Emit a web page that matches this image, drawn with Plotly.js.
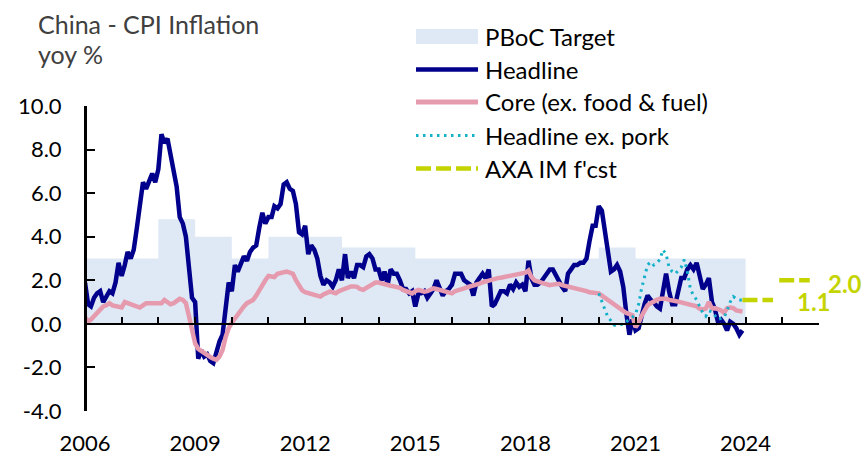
<!DOCTYPE html>
<html>
<head>
<meta charset="utf-8">
<script src="https://cdn.plot.ly/plotly-3.0.1.min.js"></script>
<style>html,body{margin:0;padding:0;background:#fff;}#chart{width:864px;height:456px;}</style>
</head>
<body>
<div id="chart"></div>
<script>
// ---------------- DATA ----------------
const startYear = 2006; // monthly series start Jan 2006
const headline = [
  1.9, 0.9, 0.8, 1.2, 1.4, 1.5, 1.0, 1.3, 1.5, 1.4, 1.9, 2.8,   // 2006
  2.2, 2.7, 3.3, 3.0, 3.4, 4.4, 5.6, 6.5, 6.2, 6.5, 6.9, 6.5,   // 2007
  7.1, 8.7, 8.3, 8.5, 7.7, 7.1, 6.3, 4.9, 4.6, 4.0, 2.4, 1.2,   // 2008
  1.0, -1.6, -1.2, -1.5, -1.4, -1.7, -1.8, -1.2, -0.8, -0.5, 0.6, 1.9, // 2009
  1.5, 2.7, 2.4, 2.8, 3.1, 2.9, 3.3, 3.5, 3.6, 4.4, 5.1, 4.6,   // 2010
  4.9, 4.9, 5.4, 5.3, 5.5, 6.4, 6.5, 6.2, 6.1, 5.5, 4.2, 4.1,   // 2011
  4.5, 3.2, 3.6, 3.4, 3.0, 2.2, 1.8, 2.0, 1.9, 1.7, 2.0, 2.5,   // 2012
  2.0, 3.2, 2.1, 2.4, 2.1, 2.7, 2.7, 2.6, 3.1, 3.2, 3.0, 2.5,   // 2013
  2.5, 2.0, 2.4, 1.8, 2.5, 2.3, 2.3, 2.0, 1.6, 1.6, 1.4, 1.5,   // 2014
  0.8, 1.4, 1.4, 1.5, 1.2, 1.4, 1.6, 2.0, 1.6, 1.3, 1.5, 1.6,   // 2015
  1.8, 2.3, 2.3, 2.3, 2.0, 1.9, 1.8, 1.3, 1.9, 2.1, 2.3, 2.1,   // 2016
  2.5, 0.8, 0.9, 1.2, 1.5, 1.5, 1.4, 1.8, 1.6, 1.9, 1.7, 1.8,   // 2017
  1.5, 2.9, 2.1, 1.8, 1.8, 1.9, 2.1, 2.3, 2.5, 2.5, 2.2, 1.9,   // 2018
  1.7, 1.5, 2.3, 2.5, 2.7, 2.7, 2.8, 2.8, 3.0, 3.8, 4.5, 4.5,   // 2019
  5.4, 5.2, 4.3, 3.3, 2.4, 2.5, 2.7, 2.4, 1.7, 0.5, -0.5, 0.2,  // 2020
  -0.3, -0.2, 0.4, 0.9, 1.3, 1.1, 1.0, 0.8, 0.7, 1.5, 2.3, 1.5, // 2021
  0.9, 0.9, 1.5, 2.1, 2.1, 2.5, 2.7, 2.5, 2.8, 2.1, 1.6, 1.8,   // 2022
  2.1, 1.0, 0.7, 0.1, 0.2, 0.0, -0.3, 0.1, 0.0, -0.2, -0.5, -0.3 // 2023
];
const core = [
  0.3, 0.1, 0.2, 0.35, 0.55, 0.65, 0.8, 0.85, 0.95, 0.85, 0.8, 0.75,        // 2006
  0.75, 1.0, 0.95, 0.9, 0.85, 0.8, 0.75, 0.85, 0.95, 0.95, 0.95, 0.95,      // 2007
  0.9, 0.95, 1.1, 1.0, 0.9, 0.95, 1.05, 1.15, 1.1, 0.95, 0.35, -0.4,        // 2008
  -0.9, -1.15, -1.25, -1.35, -1.45, -1.52, -1.6, -1.65, -1.5, -1.2, -0.6, -0.2, // 2009
  0.05, 0.25, 0.45, 0.6, 0.8, 0.95, 1.05, 1.1, 1.3, 1.55, 1.8, 2.0,         // 2010
  2.2, 2.2, 2.15, 2.3, 2.35, 2.4, 2.4, 2.35, 2.3, 2.0, 1.8, 1.55,           // 2011
  1.45, 1.4, 1.35, 1.33, 1.28, 1.25, 1.35, 1.4, 1.48, 1.45, 1.4, 1.5,       // 2012
  1.56, 1.65, 1.7, 1.72, 1.72, 1.7, 1.6, 1.56, 1.65, 1.72, 1.8, 1.9,        // 2013
  1.9, 1.85, 1.8, 1.78, 1.75, 1.72, 1.7, 1.65, 1.56, 1.5, 1.42, 1.4,        // 2014
  1.5, 1.56, 1.52, 1.48, 1.5, 1.56, 1.63, 1.6, 1.56, 1.52, 1.45, 1.4,       // 2015
  1.4, 1.5, 1.56, 1.6, 1.63, 1.68, 1.71, 1.75, 1.8, 1.85, 1.9, 1.95,        // 2016
  2.0, 2.05, 2.08, 2.1, 2.12, 2.15, 2.16, 2.2, 2.24, 2.26, 2.28, 2.3,       // 2017
  2.35, 2.45, 2.16, 2.0, 1.94, 1.9, 1.86, 1.82, 1.78, 1.8, 1.84, 1.84,      // 2018
  1.78, 1.75, 1.7, 1.65, 1.63, 1.6, 1.56, 1.56, 1.5, 1.45, 1.42, 1.4,       // 2019
  1.4, 1.3, 1.2, 1.1, 1.0, 0.87, 0.8, 0.68, 0.6, 0.5, 0.45, 0.4,            // 2020
  -0.15, 0.05, 0.35, 0.65, 0.85, 0.95, 1.05, 1.1, 1.15, 1.17, 1.15, 1.1,    // 2021
  1.1, 1.05, 1.02, 0.98, 0.95, 0.95, 0.9, 0.85, 0.8, 0.7, 0.65, 0.7,        // 2022
  1.0, 0.7, 0.72, 0.68, 0.62, 0.5, 0.72, 0.75, 0.72, 0.62, 0.57, 0.57       // 2023
];
const exPorkStartYear = 2020;
const exPork = [
  1.4, 1.0, 0.6, 0.3, 0.15, -0.05, -0.1, -0.05, 0.0, 0.1, 0.2, 0.3,  // 2020
  0.45, 0.9, 1.6, 2.2, 2.7, 2.85, 2.7, 2.8, 2.95, 3.4, 3.2, 2.6,     // 2021
  2.4, 2.3, 2.45, 2.6, 2.95, 2.4, 1.6, 1.3, 1.1, 0.8, 0.5, 0.35,     // 2022
  0.6, 0.55, 0.4, 0.2, 0.25, 0.3, 0.6, 1.0, 1.25, 1.15, 1.1, 1.1     // 2023
];
const targetYears  = [2006,2007,2008,2009,2010,2011,2012,2013,2014,2015,2016,2017,2018,2019,2020,2021,2022,2023];
const targetValues = [3.0, 3.0, 4.8, 4.0, 3.0, 4.0, 4.0, 3.5, 3.5, 3.0, 3.0, 3.0, 3.0, 3.0, 3.5, 3.0, 3.0, 3.0];
const fcstDates  = ['2023-12-01', '2024-10-01', '2024-11-01', '2024-12-01', '2025-10-01'];
const fcstValues = [1.1, 1.1, null, 2.0, 2.0];
const fcstLabels = ['', '1.1', '', '', '2.0'];
const yTickVals   = [-4, -2, 0, 2, 4, 6, 8, 10];
const yTickLabels = ['-4.0', '-2.0', '0.0', '2.0', '4.0', '6.0', '8.0', '10.0'];
const xTickYears  = [2006,2007,2008,2009,2010,2011,2012,2013,2014,2015,2016,2017,2018,2019,2020,2021,2022,2023,2024,2025,2026];
const xLabelYears = ['2006','2009','2012','2015','2018','2021','2024'];
const seriesNames = ['PBoC Target', 'Headline', 'Core (ex. food & fuel)', 'Headline ex. pork', "AXA IM f'cst"];

// ---------------- HELPERS ----------------
function monthDates(y0, n) {
  const out = [];
  for (let i = 0; i < n; i++) {
    const y = y0 + Math.floor(i / 12), m = (i % 12) + 1;
    out.push(y + '-' + String(m).padStart(2, '0') + '-01');
  }
  return out;
}
const C = {
  fill: '#dfe8f5', head: '#00008c', core: '#e59aae', pork: '#14b1c9', fcst: '#c4d400'
};
const FONT = 'Lato, "Open Sans", sans-serif';

const tX = targetYears.map(y => y + '-01-01').concat([(targetYears[targetYears.length - 1] + 1) + '-01-01']);
const tY = targetValues.concat([targetValues[targetValues.length - 1]]);

const traces = [
  { x: tX, y: tY, type: 'scatter', mode: 'lines', line: { width: 0, shape: 'hv', color: C.fill },
    fill: 'tozeroy', fillcolor: C.fill, name: seriesNames[0], hoverinfo: 'skip' },
  { x: monthDates(startYear, headline.length), y: headline, type: 'scatter', mode: 'lines',
    line: { color: C.head, width: 4.5 }, name: seriesNames[1] },
  { x: monthDates(startYear, core.length), y: core, type: 'scatter', mode: 'lines',
    line: { color: C.core, width: 4.5 }, name: seriesNames[2] },
  { x: monthDates(exPorkStartYear, exPork.length), y: exPork, type: 'scatter', mode: 'lines',
    line: { color: C.pork, width: 3, dash: '2.5px,4.5px' }, name: seriesNames[3] },
  { x: fcstDates, y: fcstValues, type: 'scatter', mode: 'lines', connectgaps: false,
    line: { color: C.fcst, width: 4.5, dash: '15px,5px' }, name: seriesNames[4] }
];

// plot area in pixels (for legend placement)
const M = { l: 85, r: 45, t: 106, b: 45 };
const W = 864, H = 456;
const PW = W - M.l - M.r, PH = H - M.t - M.b;
const px = x => (x - M.l) / PW;
const py = y => (H - M.b - y) / PH;

const shapes = [];
const annotations = [];
// custom legend
const legY = [36.5, 69.5, 102, 135.5, 168.5];
const legX0 = 416, legX1 = 478, legTX = 483;
shapes.push({ type: 'rect', xref: 'paper', yref: 'paper', x0: px(legX0), x1: px(legX1),
  y0: py(legY[0] + 7.5), y1: py(legY[0] - 7.5), fillcolor: C.fill, line: { width: 0 } });
const legLines = [
  { c: C.head, w: 4.5, d: 'solid' },
  { c: C.core, w: 5, d: 'solid' },
  { c: C.pork, w: 3, d: '2.5px,4.5px' },
  { c: C.fcst, w: 4.5, d: '15px,5px' }
];
legLines.forEach((s, i) => {
  shapes.push({ type: 'line', xref: 'paper', yref: 'paper', x0: px(legX0), x1: px(legX1),
    y0: py(legY[i + 1]), y1: py(legY[i + 1]), line: { color: s.c, width: s.w, dash: s.d } });
});
seriesNames.forEach((n, i) => {
  annotations.push({ xref: 'paper', yref: 'paper', x: px(legTX), y: py(legY[i]), text: n,
    showarrow: false, xanchor: 'left', yanchor: 'middle', font: { family: FONT, size: 24, color: '#000' } });
});
// title
annotations.push({ xref: 'paper', yref: 'paper', x: px(36), y: py(24), text: 'China - CPI Inflation',
  showarrow: false, xanchor: 'left', yanchor: 'middle', font: { family: FONT, size: 25, color: '#404040' } });
annotations.push({ xref: 'paper', yref: 'paper', x: px(36), y: py(54), text: 'yoy %',
  showarrow: false, xanchor: 'left', yanchor: 'middle', font: { family: FONT, size: 25, color: '#404040' } });
// forecast value labels
fcstLabels.forEach((t, i) => {
  if (!t) return;
  annotations.push({ x: fcstDates[i], y: fcstValues[i], xref: 'x', yref: 'y', text: '<b>' + t + '</b>',
    showarrow: false, xanchor: 'left', yanchor: 'middle', xshift: (t === '2.0' ? 16 : 22), yshift: (t === '2.0' ? -3 : -2),
    font: { family: FONT, size: 24, color: C.fcst } });
});

const xTickText = xTickYears.map(y => xLabelYears.indexOf(String(y)) >= 0 ? String(y) : '');

const layout = {
  width: W, height: H,
  margin: { l: M.l, r: M.r, t: M.t, b: M.b, pad: 0 },
  paper_bgcolor: '#fff', plot_bgcolor: '#fff',
  showlegend: false,
  xaxis: {
    type: 'date', range: ['2006-01-01', '2026-01-01'],
    anchor: 'free', position: 4 / 14,
    showline: true, linecolor: '#000', linewidth: 2.5,
    ticks: 'inside', ticklen: 6, tickwidth: 2, tickcolor: '#000',
    tickmode: 'array', tickvals: xTickYears.map(y => y + '-01-01'), ticktext: xTickText,
    ticklabelstandoff: 99,
    showgrid: false, zeroline: false,
    tickfont: { family: FONT, size: 22, color: '#000' }
  },
  yaxis: {
    range: [-4, 10], anchor: 'free', position: 0,
    tickmode: 'array', tickvals: yTickVals, ticktext: yTickLabels,
    ticks: 'inside', ticklen: 8, tickwidth: 2, tickcolor: '#000',
    showline: true, linecolor: '#000', linewidth: 2.5,
    ticklabelstandoff: 18,
    showgrid: false, zeroline: false,
    tickfont: { family: FONT, size: 22, color: '#000' }
  },
  shapes: shapes,
  annotations: annotations
};

Plotly.newPlot('chart', traces, layout, { staticPlot: true, displayModeBar: false });
</script>
</body>
</html>
